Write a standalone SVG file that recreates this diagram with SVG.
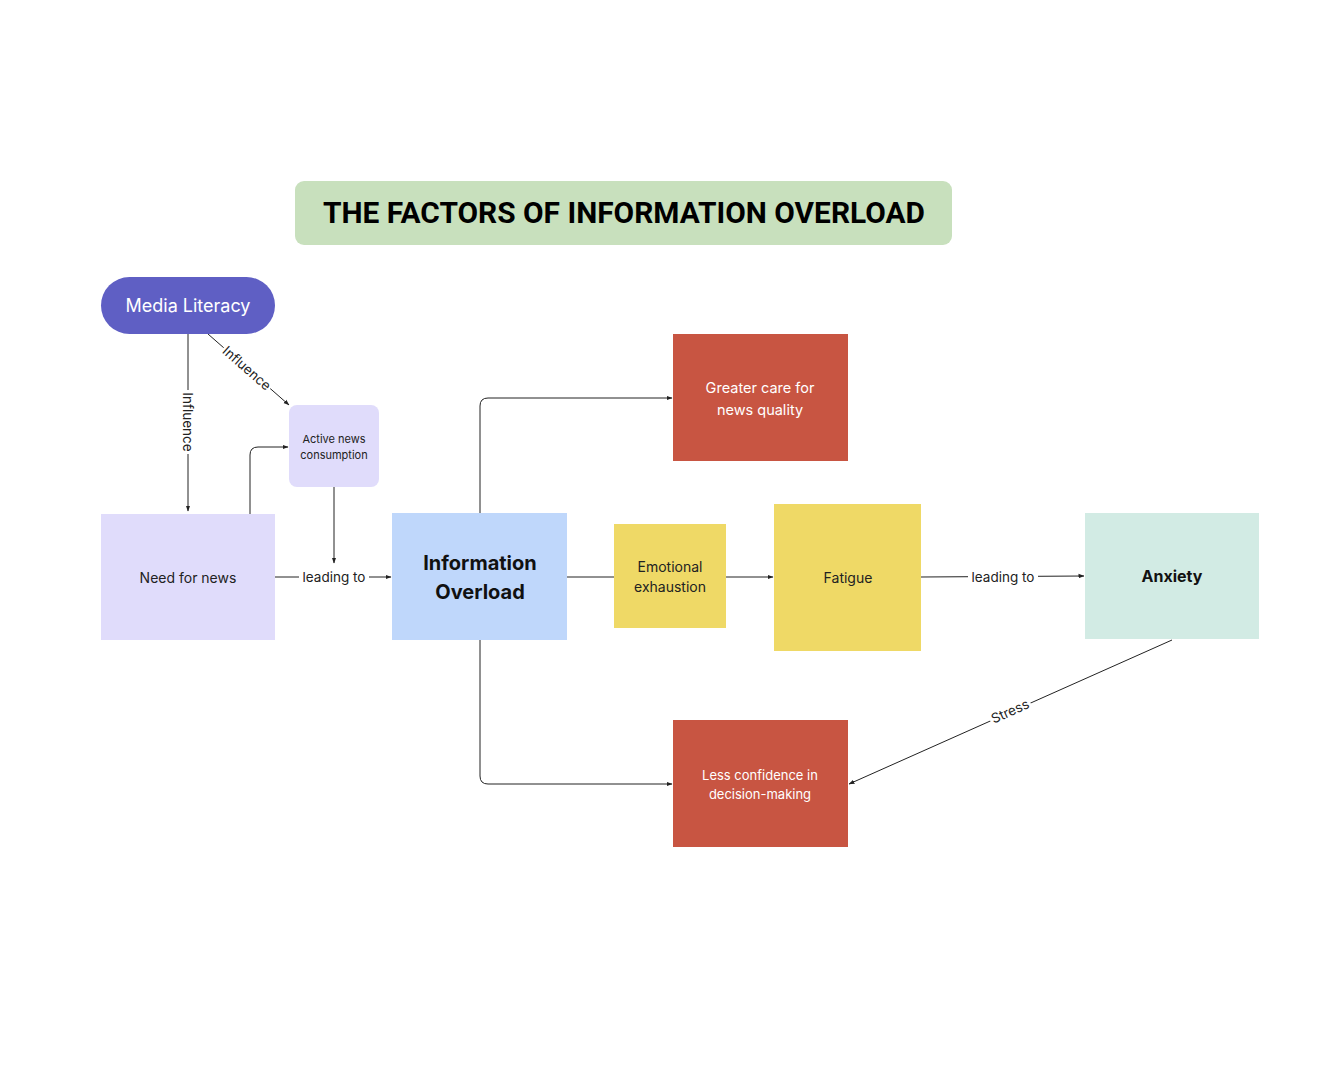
<svg xmlns="http://www.w3.org/2000/svg" width="1340" height="1072" viewBox="0 0 1340 1072">
<defs>
<style>
.t{font-family:Inter,"Noto Sans","Liberation Sans",sans-serif;text-anchor:middle}
.c{fill:none;stroke:#222;stroke-width:1}
.lbl{font-family:Inter,"Noto Sans","Liberation Sans",sans-serif;font-size:13.5px;fill:#222;text-anchor:middle;dominant-baseline:central}
.bg{fill:#fff}
</style>
<marker id="ah" viewBox="0 0 6 6" refX="5.5" refY="3" markerWidth="6" markerHeight="6" orient="auto" markerUnits="userSpaceOnUse">
<path d="M0,0.8 L6,3 L0,5.2 z" fill="#222"/>
</marker>
</defs>
<rect width="1340" height="1072" fill="#fff"/>

<g id="connectors">
<path class="c" d="M188,334 V511" marker-end="url(#ah)"/>
<path class="c" d="M208,334 L289,405" marker-end="url(#ah)"/>
<path class="c" d="M250,514 V455 Q250,447 258,447 H288" marker-end="url(#ah)"/>
<path class="c" d="M334,487 V563" marker-end="url(#ah)"/>
<path class="c" d="M275,577 H391" marker-end="url(#ah)"/>
<path class="c" d="M567,577 H614"/>
<path class="c" d="M726,577 H773" marker-end="url(#ah)"/>
<path class="c" d="M921,577 L1084,576" marker-end="url(#ah)"/>
<path class="c" d="M480,513 V406 Q480,398 488,398 H672" marker-end="url(#ah)"/>
<path class="c" d="M480,640 V776 Q480,784 488,784 H672" marker-end="url(#ah)"/>
<path class="c" d="M1172,640 L849,784" marker-end="url(#ah)"/>

<g transform="translate(188,422) rotate(90)">
<rect class="bg" x="-32" y="-8" width="64" height="16"/>
<text class="lbl" x="0" y="0">Influence</text>
</g>
<g transform="translate(247,368) rotate(41.2)">
<rect class="bg" x="-31" y="-8" width="62" height="16"/>
<text class="lbl" x="0" y="0">Influence</text>
</g>
<rect class="bg" x="299" y="569" width="70" height="16"/>
<text class="lbl" x="334" y="577">leading to</text>
<rect class="bg" x="968" y="568" width="70" height="16"/>
<text class="lbl" x="1003" y="577">leading to</text>
<g transform="translate(1010,711) rotate(-24)">
<rect class="bg" x="-22" y="-8" width="44" height="16"/>
<text class="lbl" x="0" y="0">Stress</text>
</g>
</g>

<g id="title">
<rect x="295" y="181" width="657" height="64" rx="9" fill="#c8e0bd"/>
<text x="624" y="223" font-family="Roboto,'Liberation Sans',sans-serif" font-weight="bold" font-size="29" text-anchor="middle" fill="#000" textLength="602" lengthAdjust="spacingAndGlyphs">THE FACTORS OF INFORMATION OVERLOAD</text>
</g>

<g id="media-literacy">
<rect x="101" y="277" width="174" height="57" rx="28.5" fill="#5f5fc4"/>
<text class="t" x="188" y="312" font-size="18" fill="#fff">Media Literacy</text>
</g>

<g id="active-news">
<rect x="289" y="405" width="90" height="82" rx="8" fill="#e0dcfb"/>
<text class="t" x="334" y="443" font-size="11" fill="#222">Active news</text>
<text class="t" x="334" y="459" font-size="11" fill="#222">consumption</text>
</g>

<g id="need-for-news">
<rect x="101" y="514" width="174" height="126" fill="#e0dcfb"/>
<text class="t" x="188" y="583" font-size="14" fill="#222">Need for news</text>
</g>

<g id="information-overload">
<rect x="392" y="513" width="175" height="127" fill="#bfd7fb"/>
<text class="t" x="480" y="570" font-size="20" font-weight="bold" fill="#111">Information</text>
<text class="t" x="480" y="599" font-size="20" font-weight="bold" fill="#111">Overload</text>
</g>

<g id="emotional-exhaustion">
<rect x="614" y="524" width="112" height="104" fill="#efd966"/>
<text class="t" x="670" y="572" font-size="14" fill="#222">Emotional</text>
<text class="t" x="670" y="592" font-size="14" fill="#222">exhaustion</text>
</g>

<g id="fatigue">
<rect x="774" y="504" width="147" height="147" fill="#efd966"/>
<text class="t" x="848" y="583" font-size="14" fill="#222">Fatigue</text>
</g>

<g id="anxiety">
<rect x="1085" y="513" width="174" height="126" fill="#d2ebe4"/>
<text class="t" x="1172" y="582" font-size="16" font-weight="bold" fill="#111">Anxiety</text>
</g>

<g id="greater-care">
<rect x="673" y="334" width="175" height="127" fill="#c85542"/>
<text class="t" x="760" y="393" font-size="14.5" fill="#fff">Greater care for</text>
<text class="t" x="760" y="415" font-size="14.5" fill="#fff">news quality</text>
</g>

<g id="less-confidence">
<rect x="673" y="720" width="175" height="127" fill="#c85542"/>
<text class="t" x="760" y="780" font-size="13" fill="#fff">Less confidence in</text>
<text class="t" x="760" y="799" font-size="13" fill="#fff">decision-making</text>
</g>
</svg>
